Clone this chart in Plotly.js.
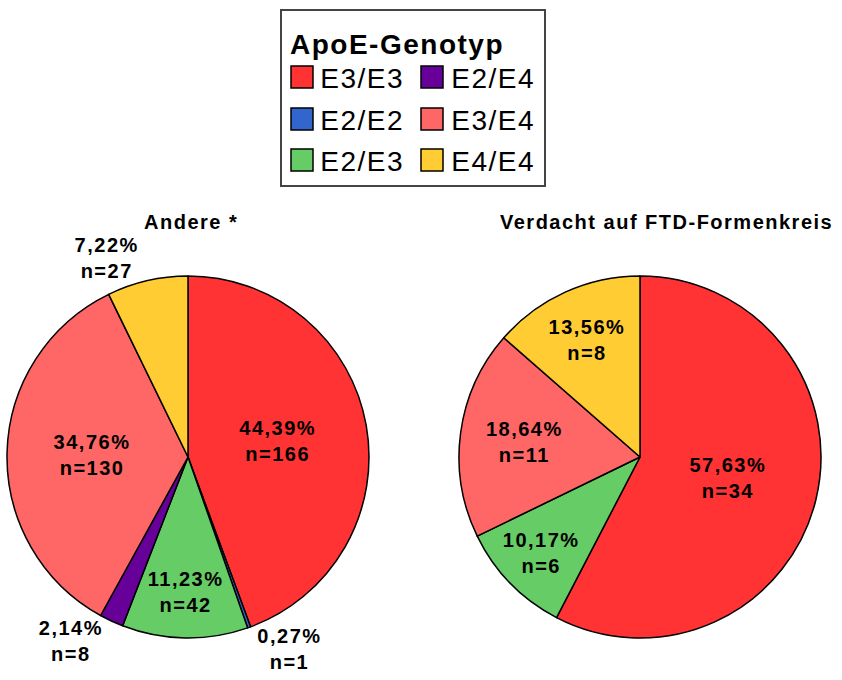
<!DOCTYPE html>
<html><head><meta charset="utf-8">
<script src="https://cdn.plot.ly/plotly-3.0.1.min.js"></script>
<style>
html,body{margin:0;padding:0;background:#fff;}
#chart{width:842px;height:680px;}
.main-svg text{letter-spacing:1.5px;}
</style>
</head><body><div id="chart"></div>
<script>
// ---- data ----
const genotypes = ['E3/E3','E2/E2','E2/E3','E2/E4','E3/E4','E4/E4'];
const genoColors = ['#ff3333','#3366cc','#66cc66','#660099','#ff6666','#ffcc33'];
const andereLabels = ['E3/E3','E2/E2','E2/E3','E2/E4','E3/E4','E4/E4'];
const andereValues = [166, 1, 42, 8, 130, 27];
const ftdLabels = ['E3/E3','E2/E3','E3/E4','E4/E4'];
const ftdValues = [34, 6, 11, 8];
const legendColumns = [['E3/E3','E2/E2','E2/E3'], ['E2/E4','E3/E4','E4/E4']];
const panelTitles = ['Andere *', 'Verdacht auf FTD-Formenkreis'];
const legendTitle = 'ApoE-Genotyp';

// ---- helpers ----
const W = 842, H = 680;
const px = x => x / W;
const py = y => 1 - y / H;
const colorOf = l => genoColors[genotypes.indexOf(l)];
const FONT = 'Liberation Sans, Arial, sans-serif';

function pieTrace(labels, values, positions, cx, cy, r) {
  return {
    type: 'pie', labels: labels, values: values, sort: false,
    direction: 'clockwise', rotation: 0,
    marker: {colors: labels.map(colorOf), line: {color: '#000', width: 1.5}},
    texttemplate: '%{percent:.2%}<br>n=%{value}',
    textposition: positions,
    insidetextorientation: 'horizontal',
    textfont: {family: FONT, size: 20, color: '#000', weight: 'bold'},
    outsidetextfont: {family: FONT, size: 20, color: '#000', weight: 'bold'},
    domain: {x: [px(cx - r), px(cx + r)], y: [py(cy + r), py(cy - r)]},
    showlegend: false, hoverinfo: 'none'
  };
}

const data = [
  pieTrace(andereLabels, andereValues, ['inside','outside','inside','outside','inside','outside'], 188, 457, 181),
  pieTrace(ftdLabels, ftdValues, ['inside','inside','inside','inside'], 640, 457, 181)
];

const annotations = [
  {text: '<b>' + panelTitles[0] + '</b>', x: px(191), y: py(222), xref: 'paper', yref: 'paper', showarrow: false, xanchor: 'center', yanchor: 'middle', font: {family: FONT, size: 20, color: '#000'}},
  {text: '<b>' + panelTitles[1] + '</b>', x: px(666), y: py(222), xref: 'paper', yref: 'paper', showarrow: false, xanchor: 'center', yanchor: 'middle', font: {family: FONT, size: 20, color: '#000'}},
  {text: '<b>' + legendTitle + '</b>', x: px(297), y: py(45), xref: 'paper', yref: 'paper', showarrow: false, xanchor: 'left', yanchor: 'middle', font: {family: FONT, size: 28, color: '#000'}}
];
const shapes = [
  {type: 'rect', xref: 'paper', yref: 'paper', x0: px(281), x1: px(545), y0: py(186), y1: py(10), line: {color: '#444', width: 2}, fillcolor: 'rgba(0,0,0,0)'}
];
const colX = [[291, 322], [421, 453]];
const rowY = [77, 119, 160];
legendColumns.forEach((col, ci) => {
  col.forEach((lab, ri) => {
    const sx = colX[ci][0], cy = rowY[ri];
    shapes.push({type: 'rect', xref: 'paper', yref: 'paper', x0: px(sx), x1: px(sx + 22), y0: py(cy + 11), y1: py(cy - 11), fillcolor: colorOf(lab), line: {color: '#000', width: 1.5}});
    annotations.push({text: lab, x: px(colX[ci][1]), y: py(cy + 1), xref: 'paper', yref: 'paper', showarrow: false, xanchor: 'left', yanchor: 'middle', font: {family: FONT, size: 28, color: '#000'}});
  });
});

const layout = {
  width: W, height: H,
  margin: {l: 0, r: 0, t: 0, b: 0},
  paper_bgcolor: '#fff', plot_bgcolor: '#fff',
  separators: ',.',
  showlegend: false,
  annotations: annotations,
  shapes: shapes
};
Plotly.newPlot('chart', data, layout, {displayModeBar: false, staticPlot: true});
</script>
</body></html>
